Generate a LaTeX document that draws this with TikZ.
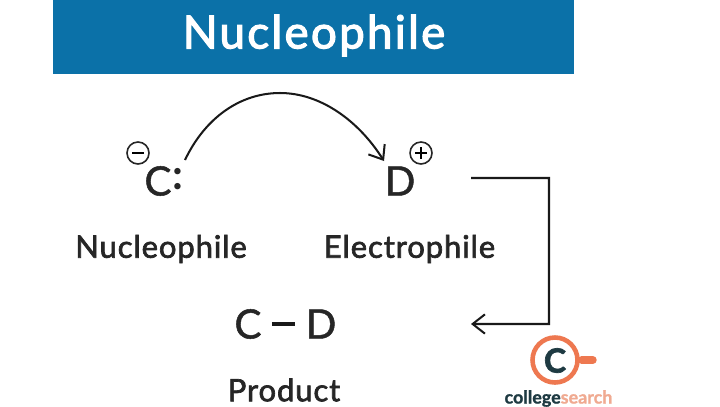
\documentclass[tikz,border=0pt]{standalone}
\usepackage{fontspec}
\setmainfont{Lato}
\usetikzlibrary{arrows.meta}
\definecolor{bannerblue}{RGB}{11,113,168}
\definecolor{logoorange}{RGB}{238,120,80}
\definecolor{logodark}{RGB}{30,58,66}
\definecolor{logopeach}{RGB}{240,170,145}
\begin{document}
\begin{tikzpicture}[scale=0.2]
            \tikzstyle{every node}+=[inner sep=0pt, text=black!85]
            \tikzstyle{atom}=[font=\fontsize{23}{23}\selectfont\addfontfeatures{FakeBold=1.2}]
            \tikzstyle{label}=[font=\fontsize{17.6}{18}\selectfont\addfontfeatures{LetterSpace=3,FakeBold=2.2}]
            \tikzstyle{charge}=[draw=black!85, circle, minimum size=0.44cm, line width=0.9pt]
            \tikzstyle{link}=[black!90, line width=1.15pt]
            \tikzstyle{tip}=[-{Straight Barb[length=7pt,width=11pt,line width=1.15pt]}]
            \useasboundingbox (0,0) rectangle (72,-40.6);
            \fill [white] (0,0) rectangle (72,-40.6);
            % banner
            \fill [bannerblue] (5.25,0) rectangle (57.4,-7.4);
            \node (title) at (31.4,-3.55) [text=white, font=\fontsize{26}{26}\selectfont\addfontfeatures{LetterSpace=5,FakeBold=2.6}] {Nucleophile};
            % reaction
            \node (c) at (15.8,-18.1) [atom] {C};
            \node (colon) at (17.8,-17.9) [atom, font=\fontsize{24}{24}\selectfont\bfseries] {:};
            \node (d) at (40,-18.1) [atom] {D};
            \node (minus) at (13.8,-15.3) [charge] {};
            \node (plus) at (42.1,-15.3) [charge] {};
            \draw [line width=0.9pt] (13.2,-15.3) -- (14.4,-15.3);
            \draw [line width=0.9pt] (41.5,-15.3) -- (42.7,-15.3) (42.1,-14.7) -- (42.1,-15.9);
            \node (nuc) at (16.1,-24.9) [label] {Nucleophile};
            \node (ele) at (40.95,-24.9) [label] {Electrophile};
            \node (cl) at (24.8,-32.4) [atom] {C};
            \node (dr) at (32.1,-32.4) [atom] {D};
            \draw [link] (cl.east) ++(1,0) coordinate (bondl) (dr.west) ++(-1,0) coordinate (bondr);
            \draw [link, line width=1.8pt] (bondl) -- (bondr);
            \node (prod) at (28.4,-39) [label] {Product};
            % arrows
            \coordinate (from) at (18.5,-16);
            \coordinate (to) at (38.4,-16.1);
            \draw [link, tip] (from) .. controls (20.5,-11.8) and (24,-9.3) .. (28,-9.3) .. controls (32,-9.3) and (35.8,-12) .. (to);
            \coordinate (start) at (47.1,-17.8);
            \coordinate (end) at (47.1,-32.4);
            \draw [link, tip] (start) -- (54.9,-17.8) -- (54.9,-32.4) -- (end);
            % logo
            \node (ring) at (55.5,-36) [draw=logoorange, circle, line width=2.6pt, minimum size=0.9cm] {};
            \draw [logoorange, line width=4.5pt, line cap=round] (ring.east) ++(0.2,0) coordinate (cup) -- ++(1.1,0);
            \node (mark) at (55.5,-36.05) [text=logodark, font=\fontsize{19}{19}\selectfont\bfseries\addfontfeatures{FakeBold=2}] {C};
            \node (logotext) at (55.85,-39.85) [text=logodark, font=\fontsize{10.2}{10.2}\selectfont\bfseries\addfontfeatures{FakeBold=1}] {college\textcolor{logopeach}{search}};
\end{tikzpicture}
\end{document}
